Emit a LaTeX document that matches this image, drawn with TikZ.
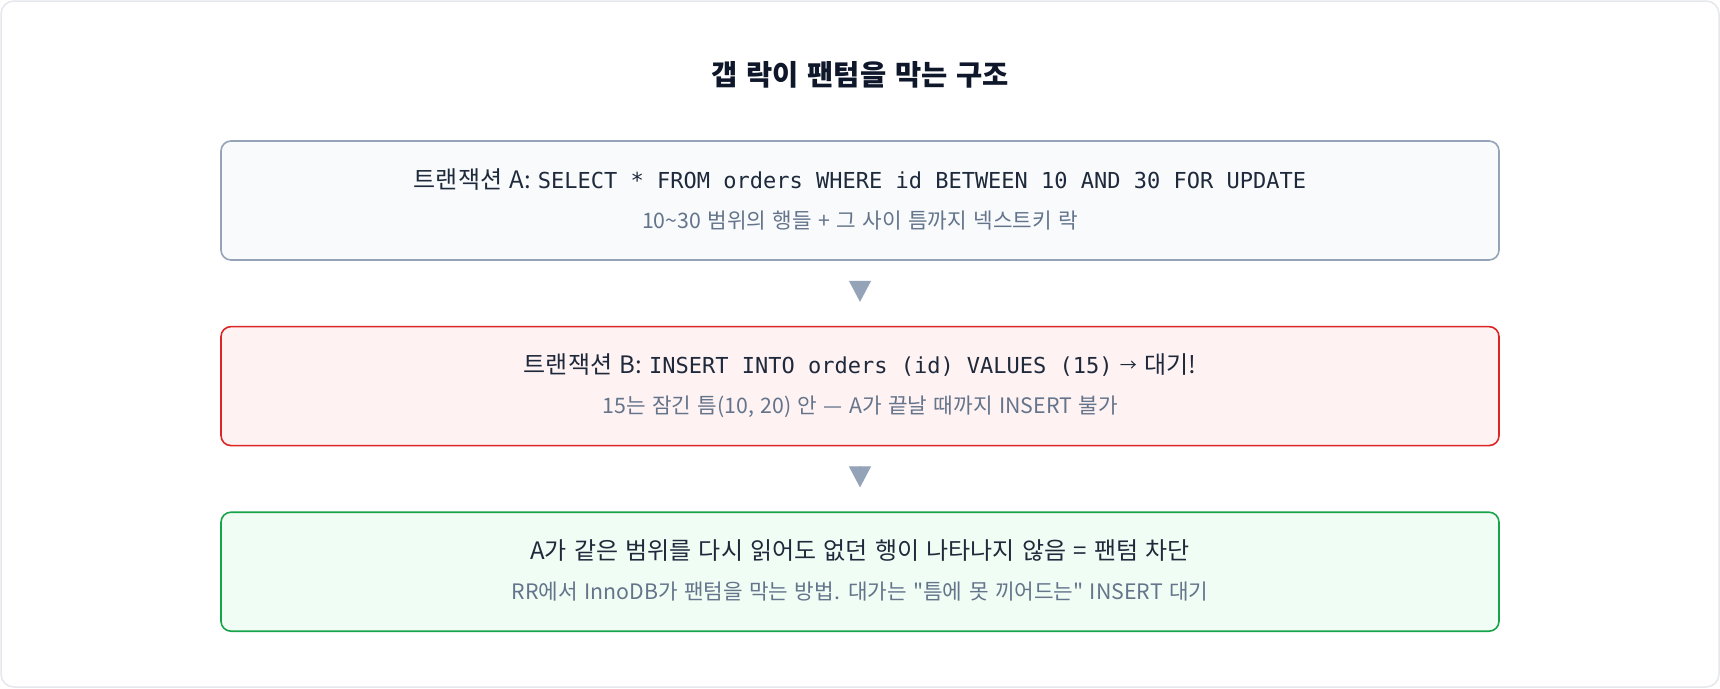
\documentclass[tikz,border=0pt]{standalone}
\usepackage{fontspec}
\setmainfont{Noto Sans CJK KR}[Ligatures=TeXOff, WordSpace=1.35]
\setmonofont{DejaVu Sans Mono}
\usetikzlibrary{arrows.meta,positioning}
\definecolor{frameGray}{HTML}{E5E7EB}
\definecolor{titleInk}{HTML}{0F172A}
\definecolor{headInk}{HTML}{1E293B}
\definecolor{subInk}{HTML}{64748B}
\definecolor{slateLine}{HTML}{94A3B8}
\definecolor{slateFill}{HTML}{F8FAFC}
\definecolor{redLine}{HTML}{DC2626}
\definecolor{redFill}{HTML}{FEF2F2}
\definecolor{greenLine}{HTML}{16A34A}
\definecolor{greenFill}{HTML}{F0FDF4}
\tikzset
{
    stepbox/.style  = {draw, line width=1.6pt, rounded corners=10pt, minimum width=1278pt, minimum height=119pt, inner sep=0pt},
    headline/.style = {anchor=base, inner sep=0pt, text=headInk, font=\fontsize{24pt}{28pt}\selectfont},
    subline/.style  = {anchor=base, inner sep=0pt, text=subInk, font=\fontsize{21.3pt}{25pt}\selectfont},
    tri/.style      = {-{Triangle[length=21pt, width=22pt]}, slateLine, line width=1pt, shorten <=20pt, shorten >=24pt}
}
\newcommand{\sqlcode}[1]{{\ttfamily\fontsize{22pt}{26pt}\selectfont #1}}
\newcommand{\waitarrow}{\raisebox{2pt}{\fontsize{17pt}{20pt}\selectfont →}}

\begin{document}
\begin{tikzpicture}[x=1pt, y=-1pt]
    \useasboundingbox (0,0) rectangle (1720,688);
    \draw[frameGray, line width=1.5pt, rounded corners=13pt] (1,1) rectangle (1719,687);

    \node [anchor=base, inner sep=0pt, text=titleInk, font=\bfseries\fontsize{28.5pt}{33pt}\selectfont] (title) at (860,85.8) {갭 락이 팬텀을 막는 구조};

    % three steps
    \node [stepbox, draw=slateLine, fill=slateFill] (boxA) at (860,200.5) {};
    \node [stepbox, draw=redLine, fill=redFill, below=65pt of boxA] (boxB) {};
    \node [stepbox, draw=greenLine, fill=greenFill, below=65pt of boxB] (boxC) {};

    \node [headline] (headA) at ([yshift=12.4pt]boxA.center) {트랜잭션 A: \sqlcode{SELECT * FROM orders WHERE id BETWEEN 10 AND 30 FOR UPDATE}};
    \node [subline] (subA) at ([yshift=-27.6pt]boxA.center) {10\textasciitilde30 범위의 행들 + 그 사이 틈까지 넥스트키 락};

    \node [headline] (headB) at ([yshift=12.4pt]boxB.center) {트랜잭션 B: \sqlcode{INSERT INTO orders (id) VALUES (15)} \waitarrow{} 대기!};
    \node [subline] (subB) at ([yshift=-27.6pt]boxB.center) {15는 잠긴 틈(10, 20) 안 — A가 끝날 때까지 INSERT 불가};

    \node [headline] (headC) at ([yshift=12.4pt]boxC.center) {A가 같은 범위를 다시 읽어도 없던 행이 나타나지 않음 = 팬텀 차단};
    \node [subline] (subC) at ([yshift=-27.6pt]boxC.center) {RR에서 InnoDB가 팬텀을 막는 방법. 대가는 "틈에 못 끼어드는" INSERT 대기};

    \draw [tri] (boxA) -- (boxB);
    \draw [tri] (boxB) -- (boxC);
\end{tikzpicture}
\end{document}
